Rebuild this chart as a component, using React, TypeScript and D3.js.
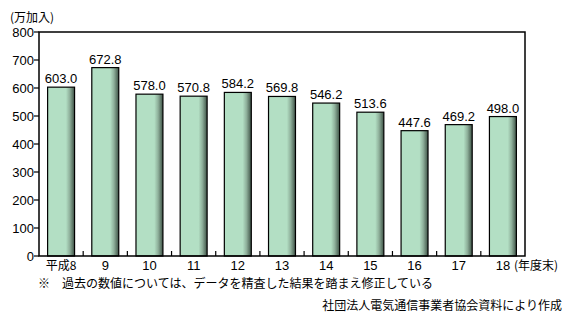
import React from "react";
import * as d3 from "d3";

const categories = ["平成8", "9", "10", "11", "12", "13", "14", "15", "16", "17", "18"];
const values = [603.0, 672.8, 578.0, 570.8, 584.2, 569.8, 546.2, 513.6, 447.6, 469.2, 498.0];
const yTicks = [0, 100, 200, 300, 400, 500, 600, 700, 800];
const unitLabel = "(万加入)";
const xUnitLabel = "(年度末)";
const footnote = "※　過去の数値については、データを精査した結果を踏まえ修正している";
const source = "社団法人電気通信事業者協会資料により作成";

const W = 573, H = 327;
const left = 39, right = 525, top = 32, bottom = 256;
const numFont = "'Liberation Sans', Arial, sans-serif";
const jpFont = "'Noto Sans CJK JP', sans-serif";

export default function App() {
  const x = d3.scaleBand<string>().domain(categories).range([left, right]).paddingInner(0.39).paddingOuter(0.195);
  const y = d3.scaleLinear().domain([0, 800]).range([bottom, top]);
  const step = x.step();
  return (
    <svg width={W} height={H} style={{ position: "absolute", left: 0, top: 0, background: "#fff" }}>
      <defs>
        <linearGradient id="barg" x1="0" x2="1" y1="0" y2="0">
          <stop offset="0%" stopColor="#b3dfc4" />
          <stop offset="68%" stopColor="#b3dfc4" />
          <stop offset="82%" stopColor="#8fb09b" />
          <stop offset="100%" stopColor="#3e5246" />
        </linearGradient>
      </defs>
      <text x={10} y={22} fontFamily={jpFont} fontSize={12} fill="#000">{unitLabel}</text>
      {yTicks.map((t) => (
        <g key={t}>
          <line x1={left - 5} x2={left} y1={y(t)} y2={y(t)} stroke="#000" strokeWidth={1.2} />
          <text x={left - 5} y={y(t) + 4.5} textAnchor="end" fontFamily={numFont} fontSize={13} fill="#000">{t}</text>
        </g>
      ))}
      {categories.map((c, i) => (
        <g key={c}>
          <rect x={x(c)} y={y(values[i])} width={x.bandwidth()} height={bottom - y(values[i])} fill="url(#barg)" stroke="#000" strokeWidth={1.2} />
          <text x={(x(c) as number) + x.bandwidth() / 2} y={y(values[i]) - 4} textAnchor="middle" fontFamily={numFont} fontSize={13} fill="#000">{values[i].toFixed(1)}</text>
          <text x={(x(c) as number) + x.bandwidth() / 2} y={270} textAnchor="middle" fontFamily={i === 0 ? jpFont : numFont} fontSize={i === 0 ? 12 : 13} fill="#000">{c}</text>
          {i > 0 && <line x1={left + step * i} x2={left + step * i} y1={bottom} y2={bottom - 5} stroke="#000" strokeWidth={1.2} />}
        </g>
      ))}
      <rect x={left} y={top} width={right - left} height={bottom - top} fill="none" stroke="#000" strokeWidth={1.5} />
      <text x={514} y={270} fontFamily={jpFont} fontSize={12} fill="#000">{xUnitLabel}</text>
      <text x={38} y={288} fontFamily={jpFont} fontSize={12} fill="#000">{footnote}</text>
      <text x={562} y={310} textAnchor="end" fontFamily={jpFont} fontSize={12} fill="#000">{source}</text>
    </svg>
  );
}
